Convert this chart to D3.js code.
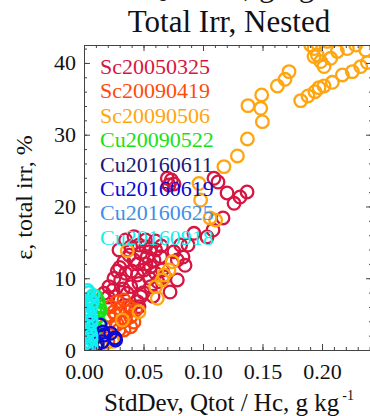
<!DOCTYPE html>
<html>
<head>
<meta charset="utf-8">
<script src="https://cdn.jsdelivr.net/npm/d3@7"></script>
<style>
  html, body { margin: 0; padding: 0; background: #fff; overflow: hidden; }
  svg { display: block; }
  text { font-family: "Liberation Serif", "Times New Roman", serif; }
</style>
</head>
<body>
<svg id="chart" width="370" height="416"></svg>
<script>
// Flight cases, legend order = drawing order
const caseNames = ["Sc20050325", "Sc20090419", "Sc20090506", "Cu20090522",
                   "Cu20160611", "Cu20160619", "Cu20160625", "Cu20160918"];
const caseColors = ["#d61642", "#ff4a0a", "#ffa510", "#18e018",
                    "#1a1a78", "#0a0ad8", "#3f8fe4", "#10f0f0"];

// [StdDev Qtot/Hc (g/kg), total irradiance error (%)]
const sc20050325 = [
  [0.0294, 13.94], [0.0392, 14.40], [0.0462, 14.63], [0.0518, 14.40], [0.0560, 14.17],
  [0.0602, 13.94], [0.0476, 13.47], [0.0336, 12.31], [0.0420, 12.54], [0.0532, 13.01],
  [0.0588, 12.54], [0.0644, 13.01], [0.0252, 9.99], [0.0350, 10.68], [0.0448, 10.45],
  [0.0504, 11.15], [0.0560, 11.61], [0.0602, 10.68], [0.0658, 11.15], [0.0210, 8.83],
  [0.0308, 9.76], [0.0392, 8.83], [0.0462, 9.29], [0.0560, 8.83], [0.0364, 7.90],
  [0.0266, 7.43], [0.0168, 7.90], [0.0476, 7.43], [0.0392, 6.04], [0.0448, 6.74],
  [0.0518, 15.33], [0.0350, 15.33], [0.0244, 8.36], [0.0202, 7.39], [0.0462, 6.04],
  [0.0300, 11.50], [0.0450, 12.00], [0.0550, 10.00], [0.0620, 9.50], [0.0680, 10.20],
  [0.0400, 11.00], [0.0280, 11.00], [0.0500, 8.00], [0.0580, 7.50], [0.0330, 8.50],
  [0.0420, 15.80], [0.0600, 15.20], [0.0380, 13.20], [0.0520, 12.00], [0.0650, 14.50],
  [0.0700, 23.93], [0.0734, 23.69], [0.0756, 23.14], [0.0714, 23.00], [0.1092, 23.93],
  [0.1126, 23.41], [0.1202, 21.88], [0.1311, 21.32], [0.1370, 22.02], [0.1261, 20.44],
  [0.1168, 18.40], [0.1084, 16.72], [0.1034, 15.75], [0.0924, 16.26], [0.0874, 14.63],
  [0.0832, 12.96], [0.0784, 12.54], [0.0756, 13.70], [0.0812, 14.63], [0.0784, 9.76],
  [0.0723, 8.08], [0.0849, 11.80]
];
const sc20090419 = [
  [0.0224, 6.04], [0.0280, 6.74], [0.0336, 6.97], [0.0378, 6.04], [0.0210, 4.65],
  [0.0266, 4.88], [0.0322, 3.95], [0.0392, 4.65], [0.0238, 3.25], [0.0294, 2.79],
  [0.0196, 2.32], [0.0336, 2.79], [0.0252, 1.63], [0.0392, 3.25], [0.0168, 3.25],
  [0.0434, 5.57], [0.0364, 5.34], [0.0300, 5.80], [0.0250, 5.30], [0.0350, 4.20],
  [0.0420, 3.90], [0.0280, 3.60], [0.0200, 1.20]
];
const sc20090506 = [
  [0.0120, 0.30], [0.0240, 1.20], [0.0168, 0.70], [0.0322, 4.18], [0.0462, 5.34],
  [0.0616, 7.20], [0.0602, 8.83], [0.0658, 9.76], [0.0672, 10.45], [0.0714, 11.15],
  [0.0742, 12.30], [0.0364, 13.84], [0.0966, 23.20], [0.0980, 20.90], [0.1106, 18.10],
  [0.1059, 18.40], [0.1176, 25.55], [0.1289, 27.04], [0.1373, 29.41], [0.1499, 31.82],
  [0.1485, 33.68], [0.1378, 34.05], [0.1493, 35.54], [0.1625, 36.79], [0.1689, 37.72],
  [0.1723, 38.79], [0.1821, 34.75], [0.1882, 35.40], [0.1941, 36.00], [0.1975, 36.56],
  [0.2017, 36.79], [0.2087, 37.30], [0.2171, 38.33], [0.2255, 38.79], [0.2325, 39.49],
  [0.2381, 40.05], [0.1933, 42.00], [0.1961, 41.10], [0.1989, 40.20], [0.2017, 39.50],
  [0.2073, 40.65], [0.2129, 41.60], [0.2213, 42.00], [0.2283, 42.50], [0.2367, 41.80],
  [0.1961, 42.70], [0.2045, 43.00], [0.1933, 40.90], [0.1905, 42.50]
];
const cu20090522 = [
  [0.0100, 7.50], [0.0120, 6.80], [0.0130, 6.00], [0.0120, 5.20], [0.0110, 4.50],
  [0.0130, 3.80], [0.0100, 3.00], [0.0080, 6.50], [0.0090, 5.50], [0.0140, 5.50],
  [0.0120, 2.20]
];
const cu20160611 = [
  [0.0040, 3.50], [0.0060, 2.80], [0.0030, 2.00], [0.0080, 1.50], [0.0050, 1.00],
  [0.0100, 0.50], [0.0020, 0.30]
];
const cu20160619 = [
  [0.0266, 1.39], [0.0224, 2.32], [0.0168, 2.09], [0.0154, 1.16], [0.0112, 0.90],
  [0.0261, 1.67], [0.0160, 2.50], [0.0134, 3.50]
];
const cu20160625 = [
  [0.0020, 1.00], [0.0030, 2.50], [0.0040, 4.00], [0.0050, 5.50], [0.0060, 6.50],
  [0.0030, 0.20]
];
const cu20160918 = [
  [0.0020, 0.30], [0.0050, 0.30], [0.0060, 0.60], [0.0030, 1.20], [0.0060, 1.50],
  [0.0020, 2.20], [0.0050, 2.60], [0.0060, 2.00], [0.0030, 3.30], [0.0060, 3.80],
  [0.0020, 4.50], [0.0050, 4.80], [0.0060, 4.20], [0.0030, 5.60], [0.0060, 6.00],
  [0.0020, 6.80], [0.0050, 7.20], [0.0040, 8.00], [0.0075, 7.60], [0.0030, 8.30],
  [0.0070, 6.70], [0.0010, 1.00], [0.0010, 5.50]
];
const caseData = [sc20050325, sc20090419, sc20090506, cu20090522,
                  cu20160611, cu20160619, cu20160625, cu20160918];

// Axis ticks
const xMajorTicks = [0.00, 0.05, 0.10, 0.15, 0.20];
const xTickLabels = ["0.00", "0.05", "0.10", "0.15", "0.20"];
const yMajorTicks = [0, 10, 20, 30, 40];
const yTickLabels = ["0", "10", "20", "30", "40"];

const plot = { left: 84, top: 45, right: 372, bottom: 350 };
const serif = "'Liberation Serif', 'Times New Roman', serif";

const x = d3.scaleLinear().domain([0, 0.242]).range([plot.left, plot.right]);
const y = d3.scaleLinear().domain([0, 42.5]).range([plot.bottom, plot.top]);

const svg = d3.select("#chart");

svg.append("defs").append("clipPath").attr("id", "plotClip")
  .append("rect")
  .attr("x", plot.left).attr("y", plot.top)
  .attr("width", plot.right - plot.left).attr("height", plot.bottom - plot.top);

// Titles (first line runs off the top edge)
svg.append("text").attr("x", 229).attr("y", -4).attr("text-anchor", "middle")
  .attr("font-size", 31).attr("font-family", serif).attr("fill", "#111")
  .text("Qtot/Hc, g/kg");
svg.append("text").attr("x", 229).attr("y", 32).attr("text-anchor", "middle")
  .attr("font-size", 31).attr("font-family", serif).attr("fill", "#111")
  .text("Total Irr, Nested");

// Markers
const marks = svg.append("g").attr("clip-path", "url(#plotClip)");
caseData.forEach((pts, i) => {
  marks.append("g").selectAll("circle").data(pts).join("circle")
    .attr("cx", d => x(d[0])).attr("cy", d => y(d[1])).attr("r", 6.3)
    .attr("fill", "none").attr("stroke", caseColors[i]).attr("stroke-width", 2.3);
});

// Legend
svg.append("g").selectAll("text").data(caseNames).join("text")
  .attr("x", 100).attr("y", (d, i) => 74 + i * 24.4)
  .attr("font-size", 22).attr("font-family", serif)
  .attr("fill", (d, i) => caseColors[i])
  .text(d => d);

// Axes with inward ticks
const xMinor = d3.range(0, 0.2405, 0.01);
const yMinor = d3.range(0, 42.1, 2);
const axisColor = "#444";

function styleAxis(g) {
  g.attr("font-family", serif);
  g.select(".domain").attr("stroke", axisColor).attr("stroke-width", 1);
  g.selectAll(".tick line").attr("stroke", axisColor).attr("stroke-width", 1);
}

const bottomMinor = svg.append("g").attr("transform", `translate(0,${plot.bottom})`)
  .call(d3.axisBottom(x).tickValues(xMinor).tickSize(-3).tickFormat(""));
styleAxis(bottomMinor);
const bottomMajor = svg.append("g").attr("transform", `translate(0,${plot.bottom})`)
  .call(d3.axisBottom(x).tickValues(xMajorTicks).tickSize(-6).tickPadding(13)
    .tickFormat((d, i) => xTickLabels[i]));
styleAxis(bottomMajor);
bottomMajor.selectAll("text").attr("font-size", 22).attr("fill", "#111");

const topMinor = svg.append("g").attr("transform", `translate(0,${plot.top})`)
  .call(d3.axisTop(x).tickValues(xMinor).tickSize(-3).tickFormat(""));
styleAxis(topMinor);
const topMajor = svg.append("g").attr("transform", `translate(0,${plot.top})`)
  .call(d3.axisTop(x).tickValues(xMajorTicks).tickSize(-6).tickFormat(""));
styleAxis(topMajor);

const leftMinor = svg.append("g").attr("transform", `translate(${plot.left},0)`)
  .call(d3.axisLeft(y).tickValues(yMinor).tickSize(-3).tickFormat(""));
styleAxis(leftMinor);
const leftMajor = svg.append("g").attr("transform", `translate(${plot.left},0)`)
  .call(d3.axisLeft(y).tickValues(yMajorTicks).tickSize(-6).tickPadding(8)
    .tickFormat((d, i) => yTickLabels[i]));
styleAxis(leftMajor);
leftMajor.selectAll("text").attr("font-size", 22).attr("fill", "#111");

const rightMinor = svg.append("g").attr("transform", `translate(${plot.right},0)`)
  .call(d3.axisRight(y).tickValues(yMinor).tickSize(-3).tickFormat(""));
styleAxis(rightMinor);
const rightMajor = svg.append("g").attr("transform", `translate(${plot.right},0)`)
  .call(d3.axisRight(y).tickValues(yMajorTicks).tickSize(-6).tickFormat(""));
styleAxis(rightMajor);

// Axis titles
const xTitle = svg.append("text").attr("x", 229).attr("y", 411).attr("text-anchor", "middle")
  .attr("font-size", 25).attr("font-family", serif).attr("fill", "#111");
xTitle.append("tspan").text("StdDev, Qtot / Hc, g kg");
xTitle.append("tspan").attr("dx", 3).attr("dy", -11).attr("font-size", 14).text("-1");

svg.append("text")
  .attr("transform", `translate(32,${(plot.top + plot.bottom) / 2}) rotate(-90)`)
  .attr("text-anchor", "middle").attr("font-size", 24).attr("font-family", serif)
  .attr("fill", "#111")
  .text("ε, total irr, %");
</script>
</body>
</html>
